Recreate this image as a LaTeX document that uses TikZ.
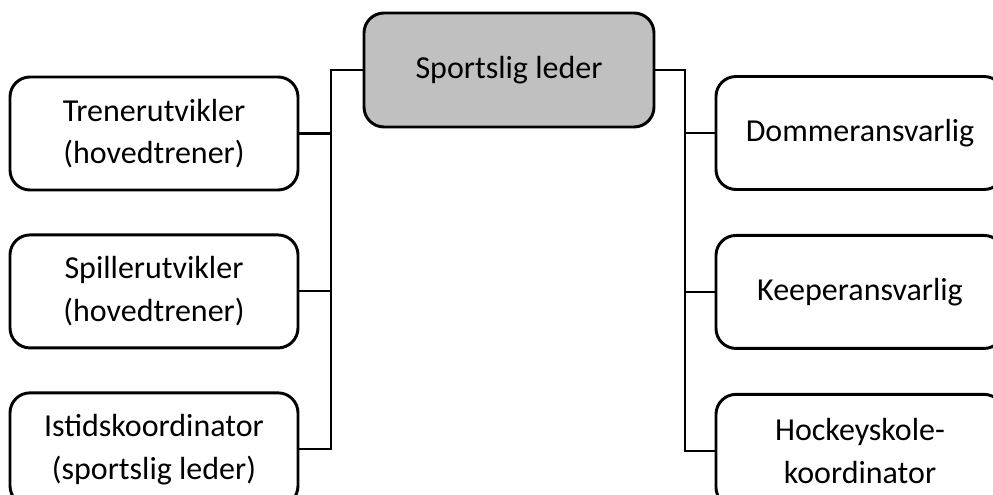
\documentclass[tikz,border=0pt]{standalone}
\usepackage{fontspec}
\setmainfont{Carlito}
\usetikzlibrary{positioning,calc}
\definecolor{leadergray}{RGB}{192,192,192}

\begin{document}
\begin{tikzpicture}[x=0.75pt,y=-0.75pt,
    rolebox/.style={draw, line width=2.2pt, rounded corners=15pt,
      minimum width=216pt, minimum height=84.75pt, inner sep=0pt,
      align=center, font=\fontsize{24}{32}\selectfont},
    leaderbox/.style={rolebox, fill=leadergray, minimum width=217.5pt, minimum height=85.5pt},
    link/.style={line width=1.6pt}]
  \useasboundingbox (0,0) rectangle (993,495);
  % leader
  \node[leaderbox] (leder) at (509,70) {Sportslig leder};
  % left column
  \node[rolebox] (trener) at (154,133.5) {Trenerutvikler\\(hovedtrener)};
  \node[rolebox, below=31.5pt of trener] (spiller) {Spillerutvikler\\(hovedtrener)};
  \node[rolebox, below=31.5pt of spiller] (istid) {Istidskoordinator\\(sportslig leder)};
  % right column
  \node[rolebox] (dommer) at (860,133) {Dommeransvarlig};
  \node[rolebox, below=32.25pt of dommer] (keeper) {Keeperansvarlig};
  \node[rolebox, below=32.25pt of keeper] (hockey) {Hockeyskole-\\koordinator};
  % connectors
  \coordinate (lbus) at (331,0);
  \coordinate (rbus) at (685,0);
  \draw[link] (leder.west) -| (lbus |- istid.east) -- (istid.east);
  \draw[link] (trener.east) -- (lbus |- trener.east);
  \draw[link] (spiller.east) -- (lbus |- spiller.east);
  \draw[link] (leder.east) -| (rbus |- hockey.west) -- (hockey.west);
  \draw[link] (dommer.west) -- (rbus |- dommer.west);
  \draw[link] (keeper.west) -- (rbus |- keeper.west);
\end{tikzpicture}
\end{document}
